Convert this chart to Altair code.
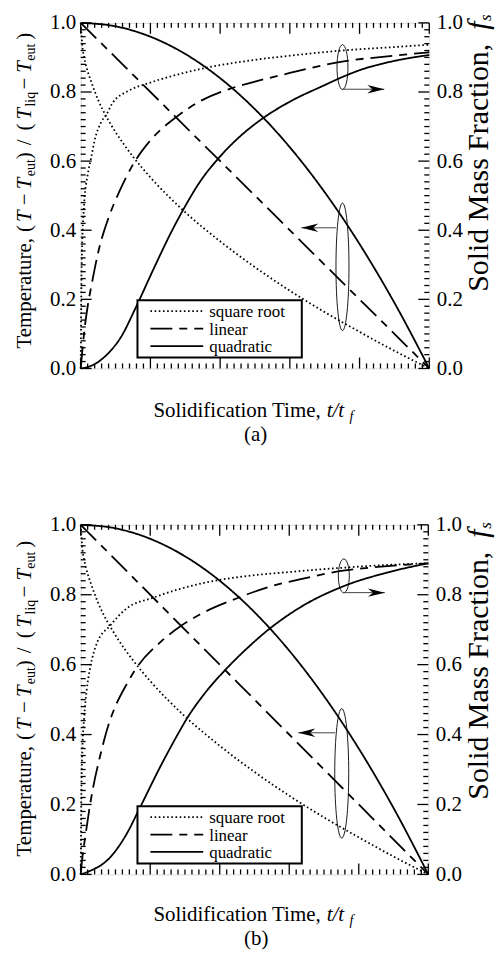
import altair as alt
import pandas as pd

FONT = "Liberation Serif"
STYLES = ["square root", "linear", "quadratic"]
DASHES = [[1.6, 2.6], [22, 7, 8, 7], [1, 0]]

major_ticks = [0.0, 0.2, 0.4, 0.6, 0.8, 1.0]
minor_ticks = [round(i * 0.02, 2) for i in range(51) if i % 10 != 0]

# ---- temperature histories (identical in both panels) ----
t_temp_sqrt = [0.0, 0.005, 0.01, 0.02, 0.03, 0.05, 0.075, 0.1, 0.15, 0.2, 0.3, 0.4, 0.5, 0.6, 0.7, 0.8, 0.9, 1.0]
temp_sqrt = [1.0, 0.93, 0.9, 0.86, 0.83, 0.777, 0.726, 0.684, 0.613, 0.553, 0.452, 0.368, 0.293, 0.225, 0.163, 0.106, 0.051, 0.0]
t_temp_lin = [0.0, 0.25, 0.5, 0.75, 1.0]
temp_lin = [1.0, 0.75, 0.5, 0.25, 0.0]
t_temp_quad = [0.0, 0.1, 0.2, 0.3, 0.4, 0.5, 0.6, 0.7, 0.8, 0.9, 1.0]
temp_quad = [1.0, 0.99, 0.96, 0.91, 0.84, 0.75, 0.64, 0.51, 0.36, 0.19, 0.0]

# ---- panel (a): solid mass fraction ----
t_fs_sqrt_a = [0.0, 0.002, 0.005, 0.01, 0.02, 0.03, 0.04, 0.06, 0.074, 0.09, 0.14, 0.19, 0.28, 0.36, 0.5, 0.6, 0.75, 0.9, 1.0]
fs_sqrt_a = [0.0, 0.25, 0.38, 0.48, 0.56, 0.61, 0.66, 0.715, 0.735, 0.766, 0.805, 0.824, 0.851, 0.87, 0.893, 0.905, 0.92, 0.93, 0.937]
t_fs_lin_a = [0.0, 0.005, 0.01, 0.02, 0.032, 0.05, 0.085, 0.11, 0.15, 0.2, 0.275, 0.34, 0.43, 0.5, 0.6, 0.75, 0.9, 1.0]
fs_lin_a = [0.0, 0.055, 0.105, 0.18, 0.246, 0.335, 0.45, 0.51, 0.59, 0.66, 0.728, 0.772, 0.81, 0.83, 0.855, 0.888, 0.905, 0.915]
t_fs_quad_a = [0.0, 0.02, 0.07, 0.118, 0.156, 0.21, 0.26, 0.3, 0.34, 0.395, 0.45, 0.524, 0.6, 0.7, 0.75, 0.8, 0.9, 1.0]
fs_quad_a = [0.0, 0.004, 0.035, 0.095, 0.172, 0.29, 0.395, 0.47, 0.537, 0.608, 0.665, 0.725, 0.772, 0.82, 0.843, 0.863, 0.89, 0.907]

# ---- panel (b): solid mass fraction ----
t_fs_sqrt_b = [0.0, 0.002, 0.005, 0.01, 0.017, 0.027, 0.046, 0.084, 0.13, 0.21, 0.28, 0.36, 0.45, 0.6, 0.75, 0.9, 1.0]
fs_sqrt_b = [0.0, 0.24, 0.36, 0.45, 0.525, 0.59, 0.66, 0.711, 0.759, 0.792, 0.815, 0.835, 0.85, 0.865, 0.877, 0.886, 0.89]
t_fs_lin_b = [0.0, 0.005, 0.012, 0.027, 0.036, 0.055, 0.084, 0.103, 0.13, 0.16, 0.23, 0.29, 0.34, 0.45, 0.55, 0.63, 0.75, 0.9, 1.0]
fs_lin_b = [0.0, 0.05, 0.1, 0.2, 0.25, 0.335, 0.44, 0.488, 0.54, 0.59, 0.665, 0.712, 0.742, 0.79, 0.825, 0.844, 0.868, 0.883, 0.89]
t_fs_quad_b = [0.0, 0.022, 0.084, 0.13, 0.17, 0.23, 0.28, 0.305, 0.357, 0.416, 0.48, 0.54, 0.63, 0.75, 0.88, 1.0]
fs_quad_b = [0.0, 0.008, 0.048, 0.112, 0.19, 0.31, 0.402, 0.445, 0.518, 0.585, 0.648, 0.7, 0.763, 0.822, 0.863, 0.89]

# annotation groups: ellipse centre (t, v), ellipse size px (w, h), arrow (t0, t1, v)
ann_a = [
    {"ct": 0.751, "cv": 0.872, "w": 11, "h": 45, "t0": 0.75, "t1": 0.871, "av": 0.808},
    {"ct": 0.751, "cv": 0.294, "w": 13, "h": 128, "t0": 0.733, "t1": 0.633, "av": 0.407},
]
ann_b = [
    {"ct": 0.757, "cv": 0.854, "w": 11, "h": 34, "t0": 0.757, "t1": 0.875, "av": 0.806},
    {"ct": 0.751, "cv": 0.289, "w": 14, "h": 130, "t0": 0.732, "t1": 0.626, "av": 0.405},
]

legend_labels = ["square root", "linear", "quadratic"]


def build_panel(fs_curves, ann, W, H, caption, top_ext, bottom_ext, shift, xt_off, cap_off):
    xs = alt.Scale(domain=[0, 1], nice=False, zero=False)
    ys = alt.Scale(domain=[0, 1], nice=False, zero=False)
    curves = [
        ("T-sqrt", "square root", t_temp_sqrt, temp_sqrt),
        ("T-lin", "linear", t_temp_lin, temp_lin),
        ("T-quad", "quadratic", t_temp_quad, temp_quad),
    ] + fs_curves
    rows = []
    for cid, sty, ts, vs in curves:
        for t, v in zip(ts, vs):
            rows.append({"curve": cid, "style": sty, "t": t, "v": v})
    df = pd.DataFrame(rows)

    one = pd.DataFrame({"k": [0]})
    # transparent backdrop that fixes the panel's extent
    layers = [alt.Chart(one).mark_rect(fill="white", opacity=0, strokeWidth=0).encode(
        x=alt.value(-72), x2=alt.value(350 + 66), y=alt.value(-top_ext), y2=alt.value(H + bottom_ext))]

    lab = dict(labelFont=FONT, labelFontSize=21, labelColor="black", ticks=False, tickSize=0,
               domain=False, grid=False, title=None, values=major_ticks, format=".1f",
               labelFlush=False, labelOverlap=False, zindex=1)

    lines = alt.Chart(df).mark_line(color="black", strokeWidth=1.8, interpolate="monotone",
                                    strokeCap="butt").encode(
        x=alt.X("t:Q", scale=xs, axis=alt.Axis(orient="bottom", labelPadding=4, **lab)),
        y=alt.Y("v:Q", scale=ys, axis=alt.Axis(orient="left", labelPadding=5, **lab)),
        detail="curve:N",
        strokeDash=alt.StrokeDash("style:N", scale=alt.Scale(domain=STYLES, range=DASHES), legend=None),
    )
    layers.append(lines)

    # annotations: ellipses and arrows
    for a in ann:
        r = a["w"] / a["h"]
        path = f"M0,-1 A{r:.3f},1 0 1,1 0,1 A{r:.3f},1 0 1,1 0,-1 Z"
        d = pd.DataFrame({"t": [a["ct"]], "v": [a["cv"]]})
        layers.append(alt.Chart(d).mark_point(shape=path, size=a["h"] ** 2, filled=False,
                                              stroke="black", strokeWidth=0.9, opacity=1).encode(
            x=alt.X("t:Q", scale=xs, axis=None), y=alt.Y("v:Q", scale=ys, axis=None)))
        d2 = pd.DataFrame({"t": [a["t0"]], "t2": [a["t1"]], "v": [a["av"]]})
        layers.append(alt.Chart(d2).mark_rule(color="#444444", strokeWidth=1).encode(
            x=alt.X("t:Q", scale=xs, axis=None), x2="t2:Q", y=alt.Y("v:Q", scale=ys, axis=None)))
        if a["t1"] > a["t0"]:
            head = "M0,0 L-2,-0.5 L-1.4,0 L-2,0.5 Z"
        else:
            head = "M0,0 L2,-0.5 L1.4,0 L2,0.5 Z"
        d3 = pd.DataFrame({"t": [a["t1"]], "v": [a["av"]]})
        layers.append(alt.Chart(d3).mark_point(shape=head, size=289, filled=True, color="black",
                                               strokeWidth=0, opacity=1).encode(
            x=alt.X("t:Q", scale=xs, axis=None), y=alt.Y("v:Q", scale=ys, axis=None)))

    # legend box
    layers.append(alt.Chart(one).mark_rect(fill="white", stroke="black", strokeWidth=2).encode(
        x=alt.value(57), x2=alt.value(222), y=alt.value(H - 68.5), y2=alt.value(H - 11)))
    for i, (lbl, dash) in enumerate(zip(legend_labels, DASHES)):
        yy = H - 57.5 + 17.5 * i
        layers.append(alt.Chart(one).mark_rule(color="black", strokeWidth=1.8, strokeDash=dash,
                                               strokeCap="butt").encode(
            x=alt.value(70), x2=alt.value(123), y=alt.value(yy)))
        layers.append(alt.Chart(one).mark_text(align="left", baseline="middle", font=FONT,
                                               fontSize=17, color="black").encode(
            x=alt.value(129), y=alt.value(yy + 1), text=alt.value(lbl)))

    # inward ticks on all four sides
    for vals, L in ((major_ticks, 11), (minor_ticks, 5)):
        d = pd.DataFrame({"p": vals})
        base = alt.Chart(d).mark_rule(color="black", strokeWidth=1.3)
        layers.append(base.encode(x=alt.X("p:Q", scale=xs, axis=None), y=alt.value(H), y2=alt.value(H - L)))
        layers.append(base.encode(x=alt.X("p:Q", scale=xs, axis=None), y=alt.value(0), y2=alt.value(L)))
        layers.append(base.encode(y=alt.Y("p:Q", scale=ys, axis=None), x=alt.value(0), x2=alt.value(L)))
        if L == 11:
            yax = alt.Axis(orient="right", labelPadding=7, **lab)
        else:
            yax = None
        layers.append(base.encode(y=alt.Y("p:Q", scale=ys, axis=yax), x=alt.value(W), x2=alt.value(W - L)))

    # titles built from text pieces: (text, x, y, angle, size, italic)
    s = shift
    pieces = [
        ("Temperature,", -50, 333 + s, 270, 21, False),
        ("(", -50, 216 + s, 270, 21, False),
        ("T", -50, 206 + s, 270, 21, True),
        ("\u2212", -50, 189 + s, 270, 21, False),
        ("T", -50, 173 + s, 270, 21, True),
        ("eut", -46, 160 + s, 270, 14, False),
        (")", -50, 143 + s, 270, 21, False),
        ("/", -50, 129 + s, 270, 21, False),
        ("(", -50, 114 + s, 270, 21, False),
        ("T", -50, 103 + s, 270, 21, True),
        ("liq", -46, 90 + s, 270, 14, False),
        ("\u2212", -50, 73 + s, 270, 21, False),
        ("T", -50, 56 + s, 270, 21, True),
        ("eut", -46, 44 + s, 270, 14, False),
        (")", -50, 23 + s, 270, 21, False),
        ("Solid Mass Fraction,", 409, 276 + s, 270, 30, False),
        ("f", 409, 13 + s, 270, 30, True),
        ("s", 412, 4 + s, 270, 17, True),
        ("Solidification Time,", 73, H + xt_off, 0, 21, False),
        ("t/t", 247, H + xt_off, 0, 21, True),
        ("f", 270, H + xt_off + 4, 0, 14, True),
        (caption, 164, H + cap_off, 0, 21, False),
    ]
    for italic in (False, True):
        sub = [p for p in pieces if p[5] == italic]
        tdf = pd.DataFrame({"txt": [p[0] for p in sub], "px": [p[1] for p in sub],
                            "py": [p[2] for p in sub], "ang": [p[3] for p in sub],
                            "fs": [p[4] for p in sub]})
        layers.append(alt.Chart(tdf).mark_text(align="left", baseline="alphabetic", font=FONT,
                                               fontStyle="italic" if italic else "normal",
                                               color="black").encode(
            text="txt:N",
            x=alt.X("px:Q", scale=None, axis=None),
            y=alt.Y("py:Q", scale=None, axis=None),
            angle=alt.Angle("ang:Q", scale=None),
            size=alt.Size("fs:Q", scale=None, legend=None),
        ))

    return alt.layer(*layers).resolve_axis(y="independent").properties(width=W, height=H)


panel_a = build_panel([
    ("fs-sqrt", "square root", t_fs_sqrt_a, fs_sqrt_a),
    ("fs-lin", "linear", t_fs_lin_a, fs_lin_a),
    ("fs-quad", "quadratic", t_fs_quad_a, fs_quad_a),
], ann_a, 350, 347, "(a)", 12, 78, -6, 49, 73)

panel_b = build_panel([
    ("fs-sqrt", "square root", t_fs_sqrt_b, fs_sqrt_b),
    ("fs-lin", "linear", t_fs_lin_b, fs_lin_b),
    ("fs-quad", "quadratic", t_fs_quad_b, fs_quad_b),
], ann_b, 349, 351, "(b)", 77, 76, 0, 47, 71)

chart = alt.vconcat(panel_a, panel_b, spacing=0).properties(
    padding={"left": 0, "top": 0, "right": 0, "bottom": 0}
).configure_view(stroke="black", strokeWidth=2).configure(background="white")

chart.save("out.html", embed_options={"renderer": "svg", "actions": False})
